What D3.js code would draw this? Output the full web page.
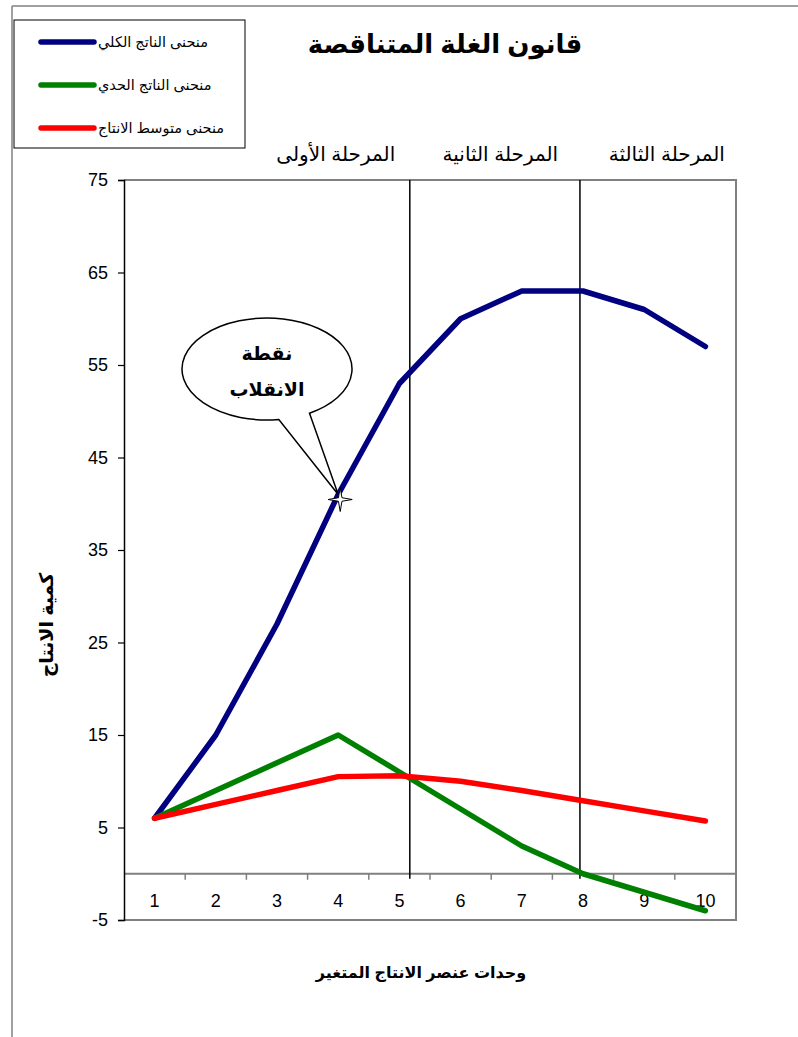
<!DOCTYPE html>
<html>
<head>
<meta charset="utf-8">
<script src="https://cdn.jsdelivr.net/npm/d3@7"></script>
<style>
  body { margin: 0; background: #fff; }
  text { font-family: "Liberation Sans", Arial, "DejaVu Sans", sans-serif; }
</style>
</head>
<body>
<svg id="chart" width="798" height="1037"></svg>
<script>
// ---- data ----
const units = [1, 2, 3, 4, 5, 6, 7, 8, 9, 10];
const totalProduct = [6, 15, 27, 41, 53, 60, 63, 63, 61, 57];
const marginalProduct = [6, 9, 12, 15, 11, 7, 3, 0, -2, -4];
const averageProduct = [6, 7.5, 9, 10.5, 10.6, 10, 9, 7.9, 6.8, 5.7];
const yTicks = [-5, 5, 15, 25, 35, 45, 55, 65, 75];
const stageBoundaries = [5.17, 7.95];
const stageNames = ["المرحلة الأولى", "المرحلة الثانية", "المرحلة الثالثة"];
const stageCenters = [3.96, 6.65, 9.37];
const inflectionIndex = 3;
const seriesNames = ["منحنى الناتج الكلي", "منحنى الناتج الحدي", "منحنى متوسط الانتاج"];
const seriesColors = ["#000080", "#008000", "#ff0000"];
const titleText = "قانون الغلة المتناقصة";
const xLabel = "وحدات عنصر الانتاج المتغير";
const yLabel = "كمية الانتاج";
const calloutLines = ["نقطة", "الانقلاب"];

const svg = d3.select("#chart");
const plot = { left: 124, right: 736, top: 180, bottom: 920 };

const x = d3.scaleLinear().domain([0.5, 10.5]).range([plot.left, plot.right]);
const y = d3.scaleLinear().domain([-5, 75]).range([plot.bottom, plot.top]);

// outer frame
svg.append("line").attr("x1", 12).attr("x2", 12).attr("y1", 6).attr("y2", 1037)
  .attr("stroke", "#808080").attr("stroke-width", 1.5);
svg.append("line").attr("x1", 12).attr("x2", 798).attr("y1", 6).attr("y2", 6)
  .attr("stroke", "#808080").attr("stroke-width", 1.5);

// title
svg.append("text").attr("x", 445).attr("y", 53).attr("text-anchor", "middle")
  .attr("font-size", 26).attr("font-weight", "bold").text(titleText);

// plot border (gray)
svg.append("path")
  .attr("d", `M${plot.left},${plot.top}H${plot.right}V${plot.bottom}H${plot.left}`)
  .attr("fill", "none").attr("stroke", "#808080").attr("stroke-width", 2);

// zero line with ticks
svg.append("line").attr("x1", plot.left).attr("x2", plot.right)
  .attr("y1", y(0)).attr("y2", y(0)).attr("stroke", "#808080").attr("stroke-width", 2);
const boundaries = d3.range(1, 11).map(i => i + 0.5);
svg.selectAll(".xt").data(boundaries).join("line")
  .attr("x1", d => x(d)).attr("x2", d => x(d))
  .attr("y1", y(0)).attr("y2", y(0) + 6)
  .attr("stroke", "#808080").attr("stroke-width", 1.5);

// x tick labels
svg.selectAll(".xl").data(units).join("text")
  .attr("x", d => x(d)).attr("y", y(0) + 33)
  .attr("text-anchor", "middle").attr("font-size", 18).text(d => d);

// y axis
const yAxis = d3.axisLeft(y).tickValues(yTicks).tickSize(6).tickPadding(10).tickFormat(d => String(d));
const gy = svg.append("g").attr("transform", `translate(${plot.left},0)`).call(yAxis);
gy.select(".domain").attr("stroke", "#000").attr("stroke-width", 1.5);
gy.selectAll(".tick line").attr("stroke", "#000").attr("stroke-width", 1.2);
gy.selectAll(".tick text").attr("font-size", 18).attr("fill", "#000")
  .attr("font-family", "'Liberation Sans', Arial, sans-serif");

// stage boundary lines
svg.selectAll(".stage").data(stageBoundaries).join("line")
  .attr("x1", d => x(d)).attr("x2", d => x(d))
  .attr("y1", plot.top).attr("y2", y(0) + 5)
  .attr("stroke", "#000").attr("stroke-width", 1.5);

// stage labels
svg.selectAll(".stl").data(stageNames).join("text")
  .attr("x", (d, i) => x(stageCenters[i])).attr("y", 161)
  .attr("text-anchor", "middle").attr("font-size", 20).text(d => d);

// series lines
const line = d3.line().x((d, i) => x(units[i])).y(d => y(d));
[totalProduct, marginalProduct, averageProduct].forEach((s, k) => {
  svg.append("path").attr("d", line(s)).attr("fill", "none")
    .attr("stroke", seriesColors[k]).attr("stroke-width", 5.5)
    .attr("stroke-linejoin", "round").attr("stroke-linecap", "round");
});

// axis titles
svg.append("text").attr("x", 421).attr("y", 978).attr("text-anchor", "middle")
  .attr("font-size", 16).attr("font-weight", "bold").text(xLabel);
svg.append("text").attr("transform", "translate(53,625) rotate(-90)")
  .attr("text-anchor", "middle").attr("font-size", 19).attr("font-weight", "bold").text(yLabel);

// legend
svg.append("rect").attr("x", 14).attr("y", 20).attr("width", 231).attr("height", 128)
  .attr("fill", "#fff").attr("stroke", "#000").attr("stroke-width", 1);
const legY = [42, 85, 128];
seriesNames.forEach((n, k) => {
  svg.append("line").attr("x1", 41).attr("x2", 94).attr("y1", legY[k]).attr("y2", legY[k])
    .attr("stroke", seriesColors[k]).attr("stroke-width", 5.5).attr("stroke-linecap", "round");
  svg.append("text").attr("x", 98).attr("y", legY[k] + 5).attr("font-size", 14.5).text(n);
});

// callout
const px = x(units[inflectionIndex]), py = y(totalProduct[inflectionIndex]);
const cx = 267, cy = 369, rx = 85, ry = 51;
const ang = a => [cx + rx * Math.cos(a * Math.PI / 180), cy + ry * Math.sin(a * Math.PI / 180)];
const A = ang(82), B = ang(60);
svg.append("path")
  .attr("d", `M${B[0]},${B[1]} A${rx},${ry} 0 1 0 ${A[0]},${A[1]} L${px},${py} Z`)
  .attr("fill", "#fff").attr("stroke", "#000").attr("stroke-width", 1.5).attr("stroke-linejoin", "miter");
svg.selectAll(".cl").data(calloutLines).join("text")
  .attr("x", cx).attr("y", (d, i) => 360 + i * 36)
  .attr("text-anchor", "middle").attr("font-size", 19).attr("font-weight", "bold").text(d => d);

// star marker
const sx = px + 2, sy = py + 5, R = 12, r = 2.5;
const pts = d3.range(8).map(i => {
  const a = -Math.PI / 2 + i * Math.PI / 4;
  const rr = i % 2 === 0 ? R : r;
  return [sx + rr * Math.cos(a), sy + rr * Math.sin(a)];
});
svg.append("path").attr("d", "M" + pts.map(p => p.join(",")).join("L") + "Z")
  .attr("fill", "#fff").attr("stroke", "#000").attr("stroke-width", 1);
</script>
</body>
</html>
